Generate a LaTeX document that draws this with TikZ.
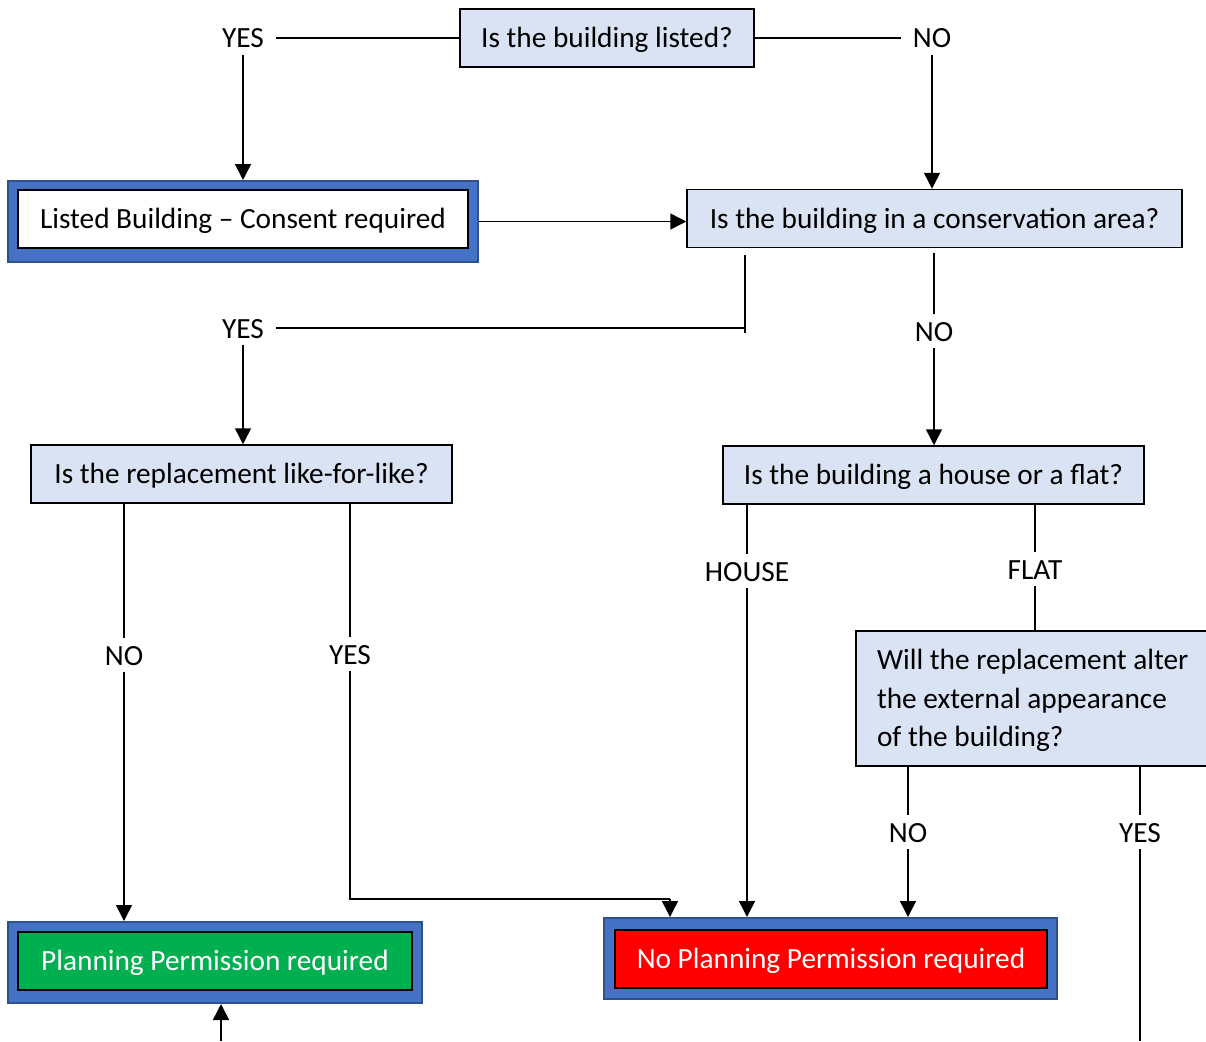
\documentclass[tikz,border=0pt]{standalone}
\usepackage{fontspec}
\setmainfont{Carlito}
\usetikzlibrary{arrows.meta}
\definecolor{qblue}{HTML}{DAE3F3}
\definecolor{frameblue}{HTML}{4472C4}
\definecolor{framedark}{HTML}{2F528F}
\definecolor{greenbox}{HTML}{00B050}
\definecolor{redbox}{HTML}{FF0000}
\begin{document}
\begin{tikzpicture}[x=1pt,y=-1pt]
\tikzstyle{question} = [draw=black, line width=1.5pt, fill=qblue, minimum height=58pt, inner sep=0, text height=21pt, text depth=2pt, font=\fontsize{29.3}{38.5}\selectfont]
\tikzstyle{outerbox} = [draw=framedark, line width=2pt, fill=frameblue, inner sep=0, minimum height=81pt]
\tikzstyle{answer} = [draw=black, line width=2pt, inner sep=0, minimum height=58pt, text height=21pt, text depth=2pt, font=\fontsize{29.3}{35}\selectfont]
\tikzstyle{choice} = [inner xsep=12pt, inner ysep=7pt, text height=20pt, text depth=0pt, font=\fontsize{29.3}{35}\selectfont]
\tikzstyle{line} = [line width=1.5pt]
\tikzstyle{arrow} = [-{Triangle[width=16pt,length=16pt]}, line width=1.5pt]
\useasboundingbox (0,0) rectangle (1206,1041);
% questions
\node [question, minimum width=294pt] (listed) at (607,38) {Is the building listed?};
\node [question, minimum width=495pt] (cons) at (934.5,218.5) {Is the building in a conservation area?};
\node [question, minimum width=421pt] (like) at (241.5,474) {Is the replacement like-for-like?};
\node [question, minimum width=421pt] (house) at (933.5,475) {Is the building a house or a flat?};
\node [question, minimum width=360pt, minimum height=135pt, text width=318pt, inner xsep=21pt, text depth=79pt, align=flush left] (alter) at (1036,698.5) {Will the replacement alter\\ the external appearance\\ of the building?};
% outcomes
\node [outerbox, minimum width=470pt] (listedbox) at (243,221.5) {};
\node [answer, fill=white, minimum width=450pt] (listedc) at (243,219) {Listed Building – Consent required};
\node [outerbox, minimum width=414pt] (ppbox) at (215,962.5) {};
\node [answer, fill=greenbox, text=white, minimum width=394pt] (pp) at (215,961) {Planning Permission required};
\node [outerbox, minimum width=453pt] (noppbox) at (830.5,958.5) {};
\node [answer, fill=redbox, text=white, minimum width=432pt] (nopp) at (831,958.5) {No Planning Permission required};
% answers
\node [choice] (yes1) at (243,38) {YES};
\node [choice] (no1) at (932,38) {NO};
\node [choice] (yes2) at (243,328) {YES};
\node [choice] (no2) at (934,331) {NO};
\node [choice] (no3) at (124,655) {NO};
\node [choice] (yes3) at (350,654) {YES};
\node [choice] (house1) at (747,571) {HOUSE};
\node [choice] (flat1) at (1035,569) {FLAT};
\node [choice] (no4) at (908,832) {NO};
\node [choice] (yes4) at (1140,832) {YES};
\coordinate (c1) at (745,255);
\coordinate (c2) at (745,333);
\coordinate (c3) at (934,253);
\coordinate (c4) at (350,899);
\coordinate (c5) at (670,899);
\coordinate (c6) at (1140,1041);
\coordinate (c7) at (221,1041);
% connectors
\draw [line] (listed) -- (yes1);
\draw [line] (listed) -- (no1);
\draw [arrow] (yes1) -- (yes1 |- listedbox.north);
\draw [arrow] (no1) -- (no1 |- cons.north);
\draw [arrow] (listedbox.east) -- (listedbox.east -| cons.west);
\draw [line] (c1) -- (c2);
\draw [line] (yes2) -- (yes2 -| c1);
\draw [arrow] (yes2) -- (yes2 |- like.north);
\draw [line] (c3) -- (no2);
\draw [arrow] (no2) -- (no2 |- house.north);
\draw [line] (no3 |- like.south) -- (no3);
\draw [arrow] (no3) -- (no3 |- ppbox.north);
\draw [line] (yes3 |- like.south) -- (yes3);
\draw [line] (yes3) -- (c4) -- (c5);
\draw [arrow] (c5) -- (c5 |- noppbox.north);
\draw [line] (house1 |- house.south) -- (house1);
\draw [arrow] (house1) -- (house1 |- noppbox.north);
\draw [line] (flat1 |- house.south) -- (flat1);
\draw [line] (flat1) -- (flat1 |- alter.north);
\draw [line] (no4 |- alter.south) -- (no4);
\draw [arrow] (no4) -- (no4 |- noppbox.north);
\draw [line] (yes4 |- alter.south) -- (yes4);
\draw [line] (yes4) -- (c6);
\draw [arrow] (c7) -- (c7 |- ppbox.south);
\end{tikzpicture}
\end{document}
